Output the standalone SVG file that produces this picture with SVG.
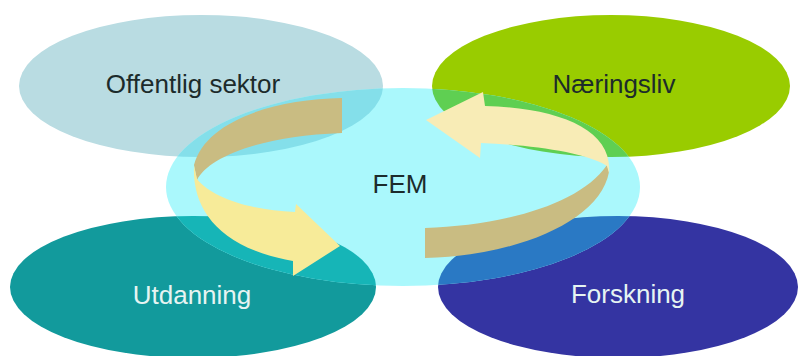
<svg xmlns="http://www.w3.org/2000/svg" width="799" height="356" viewBox="0 0 799 356">
  <style>
    .lbl { font-family: "Liberation Sans", Arial, sans-serif; font-size: 26px; text-anchor: middle; }
    .dark { fill: #1c2b2b; }
    .light { fill: #e6f4f2; }
    .tan { fill: #c9bc82; }
    .yel1 { fill: #f7eb99; }
    .yel2 { fill: #f8ecb6; }
  </style>
  <defs>
    <clipPath id="centerClip">
      <ellipse cx="403" cy="187" rx="237" ry="99"/>
    </clipPath>
  </defs>
  <rect width="799" height="356" fill="#ffffff"/>

  <g id="node-offentlig">
    <ellipse cx="201" cy="86" rx="182" ry="71" fill="#b9dce2"/>
  </g>
  <g id="node-naeringsliv">
    <ellipse cx="611" cy="86" rx="179" ry="71" fill="#99cc00"/>
  </g>
  <g id="node-utdanning">
    <ellipse cx="193" cy="287" rx="183" ry="71" fill="#129a9c"/>
  </g>
  <g id="node-forskning">
    <ellipse cx="618" cy="287" rx="180" ry="71" fill="#3434a2"/>
  </g>
  <g id="node-fem">
    <ellipse cx="403" cy="187" rx="237" ry="99" fill="#aaf8fc"/>
    <g clip-path="url(#centerClip)">
      <ellipse cx="201" cy="86" rx="182" ry="71" fill="#84dfea"/>
      <ellipse cx="611" cy="86" rx="179" ry="71" fill="#5fcf52"/>
      <ellipse cx="193" cy="287" rx="183" ry="71" fill="#16b5b7"/>
      <ellipse cx="618" cy="287" rx="180" ry="71" fill="#2a79c4"/>
    </g>
  </g>

  <g id="connectors">
    <path class="tan" d="M 342,98 C 272,99 205,122 194,165 L 197,180 C 208,158 258,136 342,133 Z"/>
    <path class="yel1" d="M 194,166 C 192,208 218,248 293,261 L 293,276 L 340,246 L 296,204 L 295,212 C 250,210 212,198 197,179 Z"/>
    <path class="tan" d="M 425,228 C 500,226 580,205 607,165 L 609,172 C 600,222 515,256 425,258 Z"/>
    <path class="yel2" d="M 609,173 C 613,130 560,108 485,106 L 483,92 L 426,120 L 480,158 L 481,143 C 530,145 585,152 607,166 Z"/>
  </g>

  <g id="labels">
    <text class="lbl dark" x="193" y="93">Offentlig sektor</text>
    <text class="lbl dark" x="614" y="93">Næringsliv</text>
    <text class="lbl dark" x="400" y="193">FEM</text>
    <text class="lbl light" x="192" y="304">Utdanning</text>
    <text class="lbl light" x="628" y="303">Forskning</text>
  </g>
</svg>
